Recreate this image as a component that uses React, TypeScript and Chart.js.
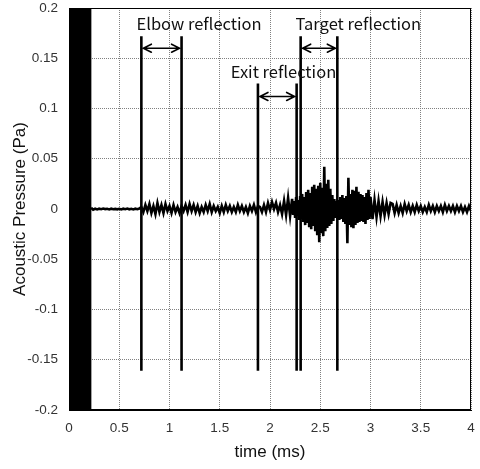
import React, { useEffect, useRef } from "react";
import { Chart, registerables } from "chart.js";

Chart.register(...registerables);

// ---- data ----
const xTicks = [0, 0.5, 1, 1.5, 2, 2.5, 3, 3.5, 4];
const yTicks = [-0.2, -0.15, -0.1, -0.05, 0, 0.05, 0.1, 0.15, 0.2];

// saturated excitation at the start (clipped by the axis)
const saturationStart = 0;
const saturationEnd = 0.225;
const saturationLevel = 0.2;

// sampled signal (Pa)
// segment 1: every 0.02 ms from 0.22 ms to 2.20 ms
const earlyStart = 0.22;
const earlyStep = 0.02;
const quietPressure = [
  0.0012, -0.0006, 0.0003, -0.0004, 0.0003, -0.0002, 0.0004, -0.0001, 0.0002, -0.0004,
  0.0003, -0.0002, 0.0001, -0.0003, 0.0002, -0.0004, 0.0003, -0.0002, 0.0004, -0.0003,
  0.0002, -0.0004, 0.0003, -0.0002, 0.0004,
];
const elbowPressure = [
  0.002, -0.003, 0.004, -0.002, 0.005, -0.004, 0.003, -0.005, 0.006, -0.003,
  0.004, -0.004, 0.005, -0.002, 0.003, -0.004, 0.004, -0.003, 0.002, -0.004,
];
const midPressure = [
  0.003, -0.002, 0.004, -0.003, 0.005, -0.002, 0.004, -0.003, 0.003, -0.004,
  0.002, -0.003, 0.004, -0.002, 0.005, -0.003, 0.003, -0.002, 0.002, -0.004,
  0.003, -0.003, 0.004, -0.002, 0.003, -0.003, 0.002, -0.003, 0.004, -0.002,
  0.003, -0.003, 0.002, -0.004, 0.003, -0.002, 0.004, -0.003, 0.003,
];
const preBurstPressure = [
  0.002, -0.003, 0.004, -0.003, 0.006, -0.001, 0.007, 0.000, 0.006, -0.003,
  0.004, -0.005, 0.008, -0.006, 0.011, -0.007,
];
// segment 2: every 0.01 ms from 2.22 ms to 3.00 ms
const burstStart = 2.22;
const burstStep = 0.01;
const burstPressure = [
  0.010, -0.006, 0.008, -0.009, 0.012, -0.007, 0.009, -0.011, 0.013, -0.010,
  0.015, -0.013, 0.012, -0.016, 0.017, -0.014, 0.019, -0.018, 0.016, -0.020,
  0.022, -0.017, 0.024, -0.022, 0.020, -0.026, 0.023, -0.033, 0.026, -0.024,
  0.021, -0.027, 0.042, -0.022, 0.025, -0.019, 0.029, -0.017, 0.020, -0.015,
  0.014, -0.012, 0.010, -0.009, 0.008, -0.010, 0.009, -0.011, 0.012, -0.010,
  0.014, -0.013, 0.011, -0.015, 0.013, -0.034, 0.031, -0.016, 0.015, -0.018,
  0.019, -0.019, 0.018, -0.016, 0.022, -0.014, 0.017, -0.013, 0.015, -0.012,
  0.014, -0.013, 0.012, -0.015, 0.016, -0.011, 0.019, -0.010, 0.012,
];
// segment 3: every 0.02 ms from 3.02 ms to 4.00 ms
const lateStart = 3.02;
const lateStep = 0.02;
const decayPressure = [
  -0.010, 0.009, -0.008, 0.008, -0.007, 0.007, -0.006, 0.006, -0.005, 0.006,
];
const tailPressure = [
  0.005, -0.004, 0.004, -0.004, 0.003, -0.004, 0.005, -0.002, 0.004, -0.003,
  0.003, -0.003, 0.004, -0.002, 0.003, -0.003, 0.002, -0.003, 0.004, -0.002,
  0.003, -0.003, 0.003, -0.002, 0.003, -0.003, 0.004, -0.002, 0.003, -0.002,
  0.003, -0.003, 0.003, -0.002, 0.003, -0.003, 0.002, -0.003, 0.003, -0.002,
];
const earlyPressure = [...quietPressure, ...elbowPressure, ...midPressure, ...preBurstPressure];
const latePressure = [...decayPressure, ...tailPressure];

// marker lines
const markerTimes = [0.72, 1.12, 1.88, 2.265, 2.305, 2.67];
const markerTops = [0.172, 0.172, 0.125, 0.125, 0.172, 0.172];
const markerBottom = -0.161;

// arrows between markers
const arrowFrom = [0.72, 1.88, 2.305];
const arrowTo = [1.12, 2.265, 2.67];
const arrowLevel = [0.16, 0.112, 0.16];

// annotation labels
const labelTexts = ["Elbow reflection", "Exit reflection", "Target reflection"];
const labelX = [1.294, 2.134, 2.879];
const labelY = [0.184, 0.137, 0.184];

const W = 480;
const H = 469;

const annotationPlugin = {
  id: "annotations",
  afterDatasetsDraw(chart: any) {
    const { ctx, chartArea, scales } = chart;
    const xs = scales.x;
    const ys = scales.y;
    ctx.save();
    // arrows
    ctx.strokeStyle = "#000";
    ctx.lineWidth = 1.6;
    ctx.lineCap = "round";
    ctx.lineJoin = "miter";
    for (let i = 0; i < arrowFrom.length; i++) {
      const x1 = xs.getPixelForValue(arrowFrom[i]) + 2;
      const x2 = xs.getPixelForValue(arrowTo[i]) - 2;
      const y = ys.getPixelForValue(arrowLevel[i]);
      ctx.beginPath();
      ctx.moveTo(x1, y);
      ctx.lineTo(x2, y);
      ctx.moveTo(x1 + 8, y - 4);
      ctx.lineTo(x1, y);
      ctx.lineTo(x1 + 8, y + 4);
      ctx.moveTo(x2 - 8, y - 4);
      ctx.lineTo(x2, y);
      ctx.lineTo(x2 - 8, y + 4);
      ctx.stroke();
    }
    // labels
    ctx.fillStyle = "#111";
    ctx.font = '16.5px "Noto Sans CJK KR", "Noto Sans", sans-serif';
    ctx.textAlign = "center";
    ctx.textBaseline = "middle";
    for (let i = 0; i < labelTexts.length; i++) {
      ctx.fillText(labelTexts[i], xs.getPixelForValue(labelX[i]), ys.getPixelForValue(labelY[i]));
    }
    // box border
    ctx.strokeStyle = "#000";
    ctx.lineWidth = 1;
    ctx.strokeRect(
      Math.round(chartArea.left) + 0.5,
      Math.round(chartArea.top) + 0.5,
      Math.round(chartArea.right - chartArea.left) - 1,
      Math.round(chartArea.bottom - chartArea.top) - 1
    );
    ctx.restore();
  },
};

const zeroPadding = (s: any) => {
  s.paddingTop = 0;
  s.paddingBottom = 0;
  s.paddingLeft = 0;
  s.paddingRight = 0;
};

const toPoints = (values: number[], start: number, step: number) =>
  values.map((v, i) => ({ x: start + i * step, y: v }));

export default function App() {
  const ref = useRef<HTMLCanvasElement | null>(null);

  useEffect(() => {
    if (!ref.current) return;
    const signal = [
      ...toPoints(earlyPressure, earlyStart, earlyStep),
      ...toPoints(burstPressure, burstStart, burstStep),
      ...toPoints(latePressure, lateStart, lateStep),
    ];
    const markerSets = markerTimes.map((t, i) => ({
      data: [
        { x: t, y: markerBottom },
        { x: t, y: markerTops[i] },
      ],
      borderColor: "#000",
      borderWidth: 2.6,
      pointRadius: 0,
      fill: false,
    }));
    const chart = new Chart(ref.current, {
      type: "line",
      data: {
        datasets: [
          {
            data: [
              { x: saturationStart, y: saturationLevel },
              { x: saturationEnd, y: saturationLevel },
            ],
            borderWidth: 0,
            borderColor: "rgba(0,0,0,0)",
            backgroundColor: "#000",
            pointRadius: 0,
            fill: "start",
          },
          {
            data: signal,
            borderColor: "#000",
            borderWidth: 2.6,
            pointRadius: 0,
            fill: false,
            tension: 0,
          },
          ...markerSets,
        ] as any,
      },
      options: {
        animation: false,
        responsive: false,
        devicePixelRatio: 1,
        layout: { padding: { left: 0, top: 8, right: 9, bottom: 0 } },
        plugins: {
          legend: { display: false },
          tooltip: { enabled: false },
        },
        scales: {
          x: {
            type: "linear",
            min: 0,
            max: 4,
            afterBuildTicks: (s: any) => {
              s.ticks = xTicks.map((v) => ({ value: v }));
            },
            afterFit: (s: any) => {
              s.height = 59;
              zeroPadding(s);
            },
            ticks: {
              padding: 10,
              color: "#333",
              font: { family: '"Liberation Sans", Arial, sans-serif', size: 13.5 },
              maxRotation: 0,
              callback: (v: any) => String(Number(Number(v).toFixed(2))),
            },
            grid: {
              drawTicks: false,
              color: "#808080",
              lineWidth: 1,
            },
            border: { display: true, color: "#000", dash: [1, 1] },
            title: {
              display: true,
              text: "time (ms)",
              color: "#111",
              font: { family: '"Liberation Sans", Arial, sans-serif', size: 17 },
              padding: { top: 0, bottom: 6 },
            },
          },
          y: {
            type: "linear",
            min: -0.2,
            max: 0.2,
            afterBuildTicks: (s: any) => {
              s.ticks = yTicks.map((v) => ({ value: v }));
            },
            afterFit: (s: any) => {
              s.width = 69;
              zeroPadding(s);
            },
            ticks: {
              padding: 11,
              color: "#333",
              font: { family: '"Liberation Sans", Arial, sans-serif', size: 13.5 },
              callback: (v: any) => String(Number(Number(v).toFixed(2))),
            },
            grid: {
              drawTicks: false,
              color: "#808080",
              lineWidth: 1,
            },
            border: { display: true, color: "#000", dash: [1, 1] },
            title: {
              display: true,
              text: "Acoustic Pressure (Pa)",
              color: "#111",
              font: { family: '"Liberation Sans", Arial, sans-serif', size: 17 },
              padding: { top: 10, bottom: 0 },
            },
          },
        } as any,
      },
      plugins: [annotationPlugin],
    });
    return () => chart.destroy();
  }, []);

  return (
    <div style={{ position: "absolute", left: 0, top: 0, width: W, height: H, background: "#fff" }}>
      <canvas ref={ref} width={W} height={H} style={{ display: "block", width: W, height: H }} />
    </div>
  );
}
